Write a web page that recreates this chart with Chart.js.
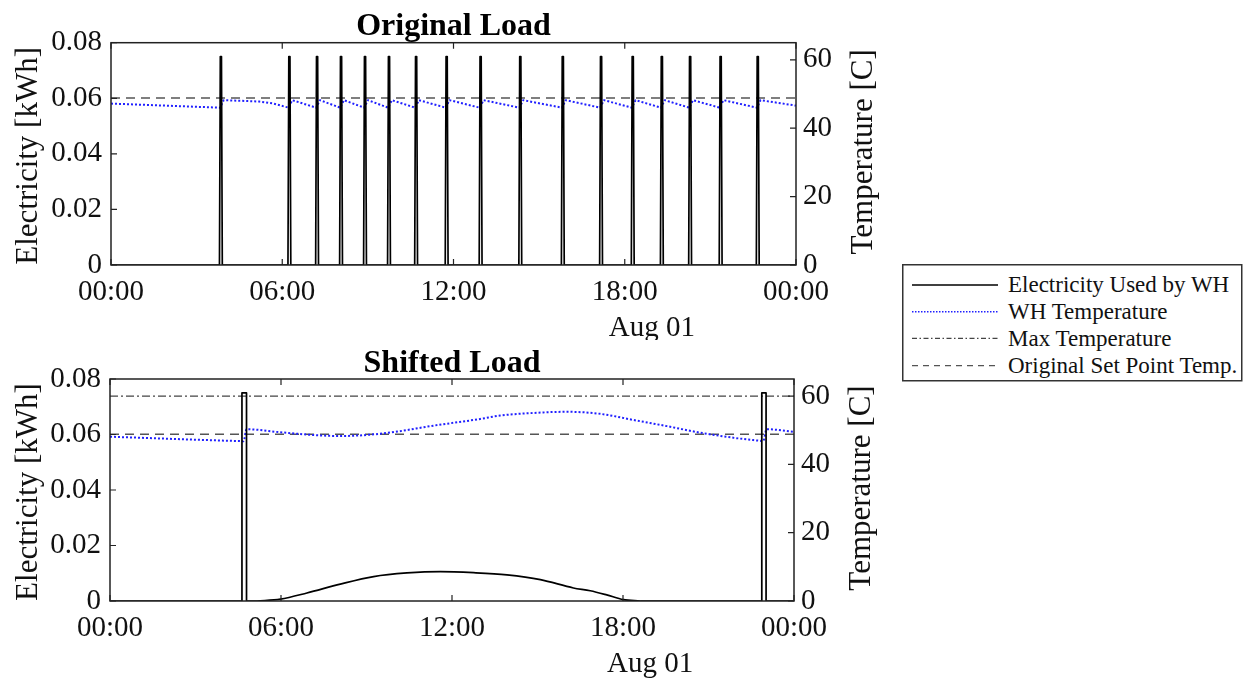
<!DOCTYPE html>
<html>
<head>
<meta charset="utf-8">
<title>Original vs Shifted Load</title>
<script src="https://cdn.jsdelivr.net/npm/chart.js@4.4.1/dist/chart.umd.min.js"></script>
<style>
  html, body { margin: 0; padding: 0; background: #fff; }
  #wrap { position: relative; width: 1248px; height: 678px; overflow: hidden; }
  canvas { position: absolute; left: 0; }
  #legend { position: absolute; left: 902px; top: 264px; }
  #legend text { font-family: "Liberation Serif", "Times New Roman", serif; font-size: 23px; fill: #111; }
</style>
</head>
<body>
<div id="wrap">
  <canvas id="origChart" width="900" height="340" style="top:0"></canvas>
  <canvas id="shiftChart" width="900" height="338" style="top:340px"></canvas>
  <svg id="legend" width="342" height="119">
    <rect x="0.75" y="0.75" width="339" height="116" fill="#fff" stroke="#333" stroke-width="1.5"/>
    <line x1="10" y1="21" x2="96" y2="21" stroke="#000" stroke-width="1.6"/>
    <line x1="10" y1="47.7" x2="96" y2="47.7" stroke="#2020ff" stroke-width="1.5" stroke-dasharray="1.5 1.5"/>
    <line x1="10" y1="74.3" x2="96" y2="74.3" stroke="#444" stroke-width="1.2" stroke-dasharray="5 2.5 1.5 2.5"/>
    <line x1="10" y1="101.7" x2="96" y2="101.7" stroke="#555" stroke-width="1.3" stroke-dasharray="6 5"/>
    <text x="106" y="28">Electricity Used by WH</text>
    <text x="106" y="55">WH Temperature</text>
    <text x="106" y="82">Max Temperature</text>
    <text x="106" y="109">Original Set Point Temp.</text>
  </svg>
</div>
<script>
// axes
const hourTicks = [0, 6, 12, 18, 24]
const hourLabels = ['00:00', '06:00', '12:00', '18:00', '00:00']
const elecTicks = [0, 0.02, 0.04, 0.06, 0.08]
const elecLabels = ['0', '0.02', '0.04', '0.06', '0.08']
const tempTicks = [0, 20, 40, 60]
const tempLabels = ['0', '20', '40', '60']
const tempMax = 65

const setPointTemp = 48.8
const maxTemp = 60

// original load: electricity spikes (hours, kWh)
const origElecHours = [0,
  3.80, 3.83, 3.87, 3.90,
  6.20, 6.23, 6.27, 6.30,
  7.17, 7.20, 7.24, 7.27,
  8.01, 8.04, 8.08, 8.11,
  8.85, 8.88, 8.92, 8.95,
  9.69, 9.72, 9.76, 9.79,
  10.64, 10.67, 10.71, 10.74,
  11.71, 11.74, 11.78, 11.81,
  12.90, 12.93, 12.97, 13.00,
  14.29, 14.32, 14.36, 14.39,
  15.78, 15.81, 15.85, 15.88,
  17.12, 17.15, 17.19, 17.22,
  18.23, 18.26, 18.30, 18.33,
  19.25, 19.28, 19.32, 19.35,
  20.24, 20.27, 20.31, 20.34,
  21.31, 21.34, 21.38, 21.41,
  22.61, 22.64, 22.68, 22.71,
  24]
const origElecKwh = [0,
  0, 0.075, 0.075, 0,
  0, 0.075, 0.075, 0,
  0, 0.075, 0.075, 0,
  0, 0.075, 0.075, 0,
  0, 0.075, 0.075, 0,
  0, 0.075, 0.075, 0,
  0, 0.075, 0.075, 0,
  0, 0.075, 0.075, 0,
  0, 0.075, 0.075, 0,
  0, 0.075, 0.075, 0,
  0, 0.075, 0.075, 0,
  0, 0.075, 0.075, 0,
  0, 0.075, 0.075, 0,
  0, 0.075, 0.075, 0,
  0, 0.075, 0.075, 0,
  0, 0.075, 0.075, 0,
  0, 0.075, 0.075, 0,
  0]

// original load: water heater temperature
const origTempHours = [0, 3.82, 3.95, 5.2, 5.7, 6.22, 6.35, 7.19, 7.32, 8.03, 8.16, 8.87, 9.00,
  9.71, 9.84, 10.66, 10.79, 11.73, 11.86, 12.92, 13.05, 14.31, 14.44, 15.80, 15.93,
  17.14, 17.27, 18.25, 18.38, 19.27, 19.40, 20.26, 20.39, 21.33, 21.46, 22.63, 22.76, 24]
const origTemp = [47.2, 46.0, 48.2, 47.8, 47.2, 46.0, 48.2, 46.0, 48.2, 46.0, 48.2, 46.0, 48.2,
  46.0, 48.2, 46.0, 48.2, 46.0, 48.2, 46.0, 48.2, 46.0, 48.2, 46.0, 48.2,
  46.0, 48.2, 46.0, 48.2, 46.0, 48.2, 46.0, 48.2, 46.0, 48.2, 46.0, 48.2, 46.6]

// shifted load: short heating pulses at night, daytime curve in between
const shiftPulseHours = [0, 4.63, 4.63, 4.79, 4.79, 5.16, null, 18.6, 22.87, 22.87, 23.02, 23.02, 24]
const shiftPulseKwh = [0, 0, 0.075, 0.075, 0, 0, null, 0, 0, 0.075, 0.075, 0, 0]
const shiftCurveHours = [5.16, 5.98, 6.91, 8.08, 9.25, 10.42, 11.59, 12.76, 13.93, 15.10, 16.26,
  16.85, 17.43, 18.01, 18.6]
const shiftCurveKwh = [0, 0.0007, 0.0029, 0.0061, 0.0088, 0.0101, 0.0106, 0.0102, 0.0094, 0.0077,
  0.0047, 0.0037, 0.0022, 0.0005, 0]

const shiftTempHours = [0, 4.22, 4.69, 4.79, 5.98, 7.15, 8.08, 9.13, 10.07, 11.24, 12.99, 13.69,
  14.74, 16.03, 17.2, 18.37, 19.54, 20.70, 21.87, 22.81, 22.92, 23.04, 24]
const shiftTemp = [48.1, 46.9, 46.8, 50.3, 49.4, 48.6, 48.3, 48.7, 49.6, 51.2, 53.3, 54.3,
  55.0, 55.4, 54.8, 53.0, 51.2, 49.3, 47.8, 46.9, 46.8, 50.3, 49.5]

const serif = '"Liberation Serif", "Times New Roman", serif'
Chart.defaults.font.family = serif
Chart.defaults.color = '#111'

const toPoints = (xs, ys) => xs.map((x, i) => ({ x: x, y: ys[i] }))
const flat = v => [{ x: 0, y: v }, { x: 24, y: v }]

// box, inward ticks, axis titles and the date label
const framePlugin = {
  id: 'frame',
  afterDraw(chart) {
    const { ctx, chartArea: a, scales } = chart
    const tl = 6
    ctx.save()
    ctx.strokeStyle = '#222'
    ctx.lineWidth = 1.5
    ctx.strokeRect(a.left, a.top, a.width, a.height)
    ctx.lineWidth = 1.2
    ctx.beginPath()
    hourTicks.forEach(h => {
      const x = scales.x.getPixelForValue(h)
      ctx.moveTo(x, a.bottom); ctx.lineTo(x, a.bottom - tl)
      ctx.moveTo(x, a.top); ctx.lineTo(x, a.top + tl)
    })
    elecTicks.forEach(v => {
      const y = scales.yE.getPixelForValue(v)
      ctx.moveTo(a.left, y); ctx.lineTo(a.left + tl, y)
    })
    tempTicks.forEach(v => {
      const y = scales.yT.getPixelForValue(v)
      ctx.moveTo(a.right, y); ctx.lineTo(a.right - tl, y)
    })
    ctx.stroke()

    ctx.fillStyle = '#111'
    ctx.textAlign = 'center'
    ctx.textBaseline = 'middle'
    ctx.font = '31px ' + serif
    const midY = (a.top + a.bottom) / 2
    ctx.save()
    ctx.translate(29, midY + 2)
    ctx.rotate(-Math.PI / 2)
    ctx.fillText('Electricity [kWh]', 0, 0)
    ctx.restore()
    ctx.save()
    ctx.translate(a.right + 68, midY - 2)
    ctx.rotate(-Math.PI / 2)
    ctx.fillText('Temperature [C]', 0, 0)
    ctx.restore()

    ctx.font = '29px ' + serif
    ctx.fillText('Aug 01', scales.x.getPixelForValue(18.95), a.bottom + 63)
    ctx.restore()
  }
}

function makeChart(canvasId, title, titlePad, dims, datasets) {
  return new Chart(document.getElementById(canvasId), {
    type: 'line',
    data: { datasets: datasets },
    options: {
      responsive: false,
      animation: false,
      devicePixelRatio: 1,
      spanGaps: false,
      layout: { padding: 0 },
      elements: { point: { radius: 0 }, line: { tension: 0, borderJoinStyle: 'round' } },
      plugins: {
        legend: { display: false },
        tooltip: { enabled: false },
        title: {
          display: true,
          text: title,
          fullSize: false,
          color: '#000',
          font: { size: 32, weight: 'bold', family: serif, lineHeight: 0.9 },
          padding: titlePad
        }
      },
      scales: {
        x: {
          type: 'linear',
          min: 0, max: 24,
          afterBuildTicks: s => { s.ticks = hourTicks.map(v => ({ value: v })) },
          afterFit: s => { s.height = dims.xHeight },
          grid: { display: false, drawTicks: false },
          border: { display: false },
          ticks: {
            autoSkip: false, maxRotation: 0, padding: 10,
            font: { size: 29 },
            callback: (v, i) => hourLabels[i]
          }
        },
        yE: {
          type: 'linear', position: 'left',
          min: 0, max: 0.08,
          afterBuildTicks: s => { s.ticks = elecTicks.map(v => ({ value: v })) },
          afterFit: s => { s.width = dims.left },
          grid: { display: false, drawTicks: false },
          border: { display: false },
          ticks: { padding: 9, font: { size: 29 }, callback: (v, i) => elecLabels[i] }
        },
        yT: {
          type: 'linear', position: 'right',
          min: 0, max: tempMax,
          afterBuildTicks: s => { s.ticks = tempTicks.map(v => ({ value: v })) },
          afterFit: s => { s.width = dims.right },
          grid: { display: false, drawTicks: false },
          border: { display: false },
          ticks: { padding: 7, font: { size: 29 }, callback: (v, i) => tempLabels[i] }
        }
      }
    },
    plugins: [framePlugin]
  })
}

const elecStyle = { borderColor: '#000', borderWidth: 1.7, yAxisID: 'yE', order: 0 }
const tempStyle = { borderColor: '#2020ff', borderWidth: 2, borderDash: [2, 2], yAxisID: 'yT', order: 1 }
const maxStyle = { borderColor: '#444', borderWidth: 1.2, borderDash: [8, 3, 2, 3], yAxisID: 'yT', order: 2 }
const setStyle = { borderColor: '#555', borderWidth: 1.5, borderDash: [9, 6], yAxisID: 'yT', order: 3 }

makeChart('origChart', 'Original Load', { top: 12, bottom: 1.9 },
  { left: 111, right: 104, xHeight: 75 }, [
    Object.assign({ label: 'Electricity Used by WH', data: toPoints(origElecHours, origElecKwh) }, elecStyle),
    Object.assign({ label: 'WH Temperature', data: toPoints(origTempHours, origTemp) }, tempStyle),
    Object.assign({ label: 'Original Set Point Temp.', data: flat(setPointTemp) }, setStyle)
  ])

makeChart('shiftChart', 'Shifted Load', { top: 9, bottom: 1.2 },
  { left: 110, right: 106, xHeight: 77 }, [
    Object.assign({ label: 'Electricity Used by WH', data: toPoints(shiftPulseHours, shiftPulseKwh) }, elecStyle),
    Object.assign({ label: 'Electricity Used by WH', data: toPoints(shiftCurveHours, shiftCurveKwh), cubicInterpolationMode: 'monotone' }, elecStyle),
    Object.assign({ label: 'WH Temperature', data: toPoints(shiftTempHours, shiftTemp), cubicInterpolationMode: 'monotone' }, tempStyle),
    Object.assign({ label: 'Max Temperature', data: flat(maxTemp) }, maxStyle),
    Object.assign({ label: 'Original Set Point Temp.', data: flat(setPointTemp) }, setStyle)
  ])
</script>
</body>
</html>
